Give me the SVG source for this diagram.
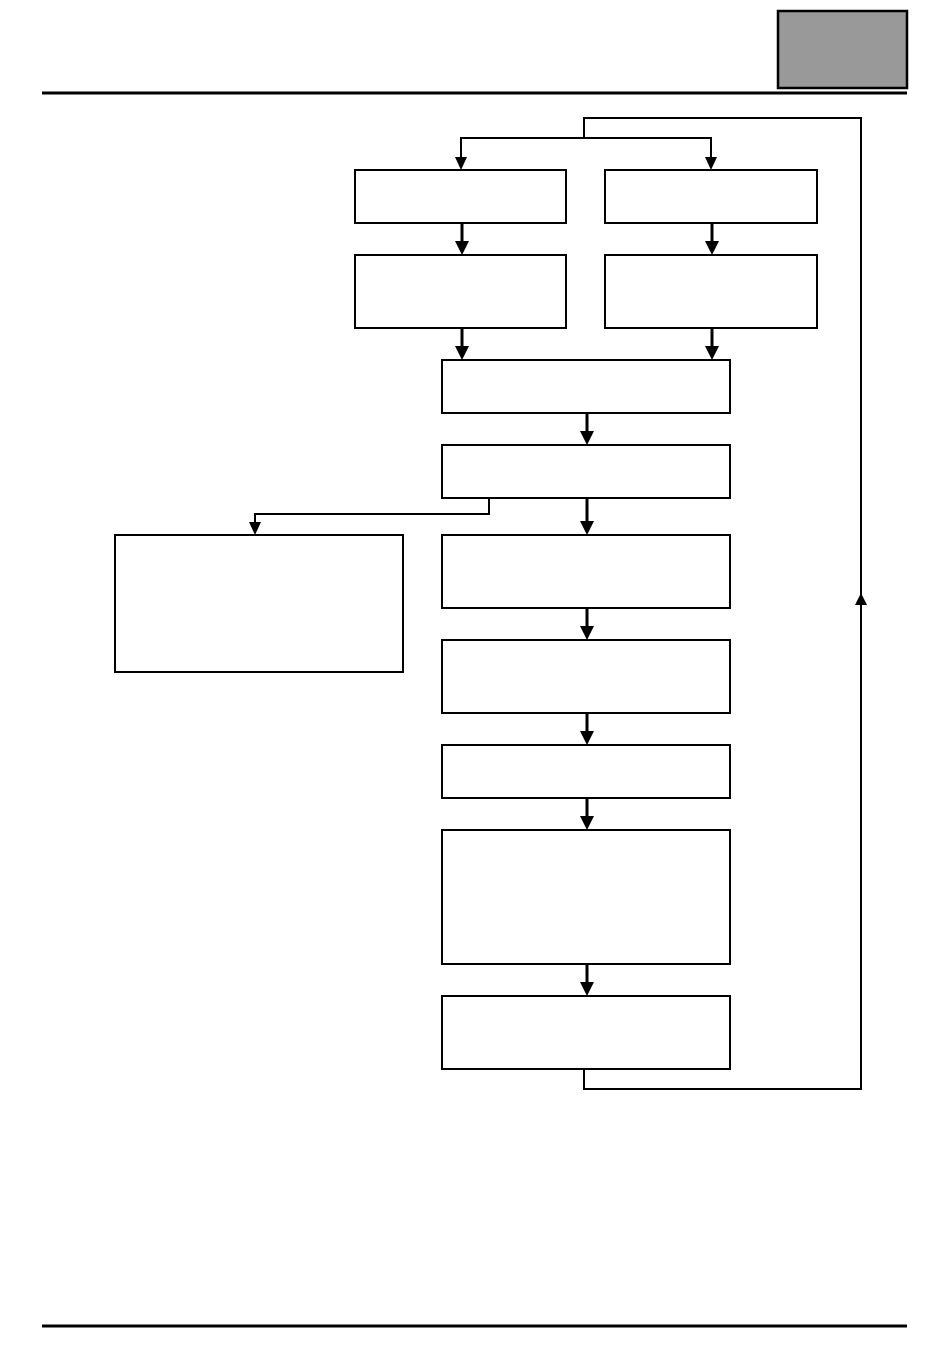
<svg xmlns="http://www.w3.org/2000/svg" width="950" height="1372" viewBox="0 0 950 1372">
<style>
.box{fill:#fff;stroke:#000;stroke-width:2}
.thin{fill:none;stroke:#000;stroke-width:2}
.thick{fill:none;stroke:#000;stroke-width:3}
.loop{fill:none;stroke:#000;stroke-width:2}
.head{fill:#000}
</style>
<rect width="950" height="1372" fill="#fff"/>
<g id="header">
<rect x="778" y="11" width="129" height="77" fill="#999" stroke="#000" stroke-width="2.5"/>
<line x1="42" y1="93" x2="907" y2="93" stroke="#000" stroke-width="3"/>
<line x1="42" y1="1326" x2="907" y2="1326" stroke="#000" stroke-width="3"/>
</g>
<g id="nodes">
<g id="a1"><rect class="box" x="355" y="170" width="211" height="53"/></g>
<g id="b1"><rect class="box" x="605" y="170" width="212" height="53"/></g>
<g id="a2"><rect class="box" x="355" y="255" width="211" height="73"/></g>
<g id="b2"><rect class="box" x="605" y="255" width="212" height="73"/></g>
<g id="c"><rect class="box" x="442" y="360" width="288" height="53"/></g>
<g id="d"><rect class="box" x="442" y="445" width="288" height="53"/></g>
<g id="l"><rect class="box" x="115" y="535" width="288" height="137"/></g>
<g id="e"><rect class="box" x="442" y="535" width="288" height="73"/></g>
<g id="f"><rect class="box" x="442" y="640" width="288" height="73"/></g>
<g id="g"><rect class="box" x="442" y="745" width="288" height="53"/></g>
<g id="h"><rect class="box" x="442" y="830" width="288" height="134"/></g>
<g id="i"><rect class="box" x="442" y="996" width="288" height="73"/></g>
</g>
<g id="connectors">
<polyline class="loop" points="584,1069 584,1089 861,1089 861,118 584,118 584,138"/>
<polygon class="head" points="861,593 855,605 867,605"/>
<polyline class="thin" points="461,158 461,138 711,138 711,158"/>
<polygon class="head" points="461,170 455,157 467,157"/>
<polygon class="head" points="711,170 705,157 717,157"/>
<line class="thick" x1="462" y1="223" x2="462" y2="243"/>
<polygon class="head" points="462,255 455,241 469,241"/>
<line class="thick" x1="712" y1="223" x2="712" y2="243"/>
<polygon class="head" points="712,255 705,241 719,241"/>
<line class="thick" x1="462" y1="328" x2="462" y2="348"/>
<polygon class="head" points="462,360 455,346 469,346"/>
<line class="thick" x1="712" y1="328" x2="712" y2="348"/>
<polygon class="head" points="712,360 705,346 719,346"/>
<line class="thick" x1="587" y1="413" x2="587" y2="433"/>
<polygon class="head" points="587,445 580,431 594,431"/>
<line class="thick" x1="587" y1="498" x2="587" y2="523"/>
<polygon class="head" points="587,535 580,521 594,521"/>
<polyline class="thin" points="489,498 489,514 255,514 255,523"/>
<polygon class="head" points="255,535 249,522 261,522"/>
<line class="thick" x1="587" y1="608" x2="587" y2="628"/>
<polygon class="head" points="587,640 580,626 594,626"/>
<line class="thick" x1="587" y1="713" x2="587" y2="733"/>
<polygon class="head" points="587,745 580,731 594,731"/>
<line class="thick" x1="587" y1="798" x2="587" y2="818"/>
<polygon class="head" points="587,830 580,816 594,816"/>
<line class="thick" x1="587" y1="964" x2="587" y2="984"/>
<polygon class="head" points="587,996 580,982 594,982"/>
</g>
</svg>
